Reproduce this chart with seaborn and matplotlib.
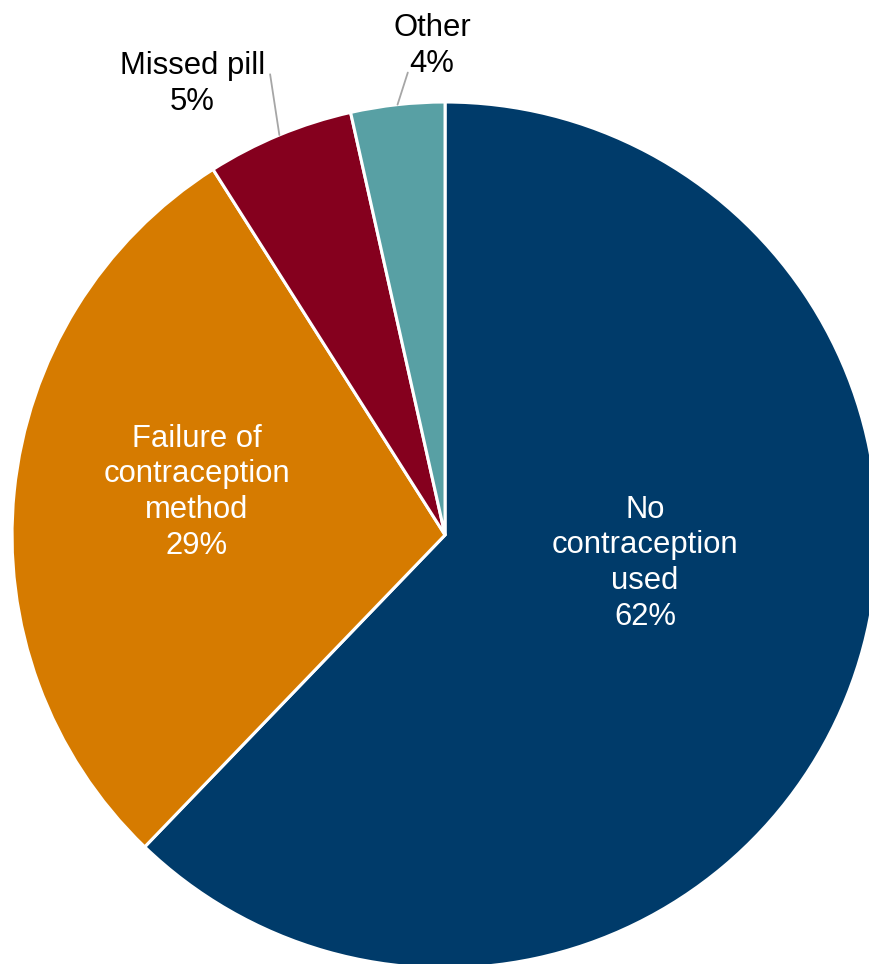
import numpy as np
import pandas as pd
import seaborn as sns
import matplotlib.pyplot as plt

## data
reasons = ["No contraception used", "Failure of contraception method", "Missed pill", "Other"]
shares = [62.2, 28.8, 5.5, 3.5]
slice_labels = ["No\ncontraception\nused\n62%", "Failure of\ncontraception\nmethod\n29%",
                "Missed pill\n5%", "Other\n4%"]
colours = ["#003B6A", "#D67B00", "#85001E", "#58A0A4"]

df = pd.DataFrame({"reason": reasons, "share": shares})

sns.set_theme(style="white")
plt.rcParams["font.family"] = ["Liberation Sans", "DejaVu Sans"]

fig = plt.figure(figsize=(8.69, 9.64), dpi=100)
ax = fig.add_axes([0, 0, 1, 1])

wedges, _ = ax.pie(df["share"], colors=colours, startangle=90, counterclock=False,
                   radius=1, wedgeprops=dict(edgecolor="white", linewidth=2.2))

# label spots (data units, pie radius = 1)
inside_pos = {0: (0.462, -0.065), 1: (-0.573, 0.099)}
outside_pos = {2: (-0.584, 1.042), 3: (-0.030, 1.130)}
line_start = {2: (-0.404, 1.064), 3: (-0.086, 1.068)}

for i, w in enumerate(wedges):
    if i in inside_pos:
        x, y = inside_pos[i]
        ax.text(x, y, slice_labels[i], ha="center", va="center", color="white",
                fontsize=22.3, linespacing=1.25)
    else:
        x, y = outside_pos[i]
        ax.text(x, y, slice_labels[i], ha="center", va="center", color="black",
                fontsize=22.3, linespacing=1.25)
        mid = np.deg2rad((w.theta1 + w.theta2) / 2)
        ex, ey = np.cos(mid), np.sin(mid)
        sx, sy = line_start[i]
        ax.plot([sx, ex], [sy, ey], color="#A6A6A6", lw=1.3)

ax.set_xlim(-1.0277, 0.979)
ax.set_ylim(-0.9908, 1.2356)
ax.set_aspect("equal")
ax.axis("off")

fig.savefig("out.png", dpi=100, facecolor="white")
